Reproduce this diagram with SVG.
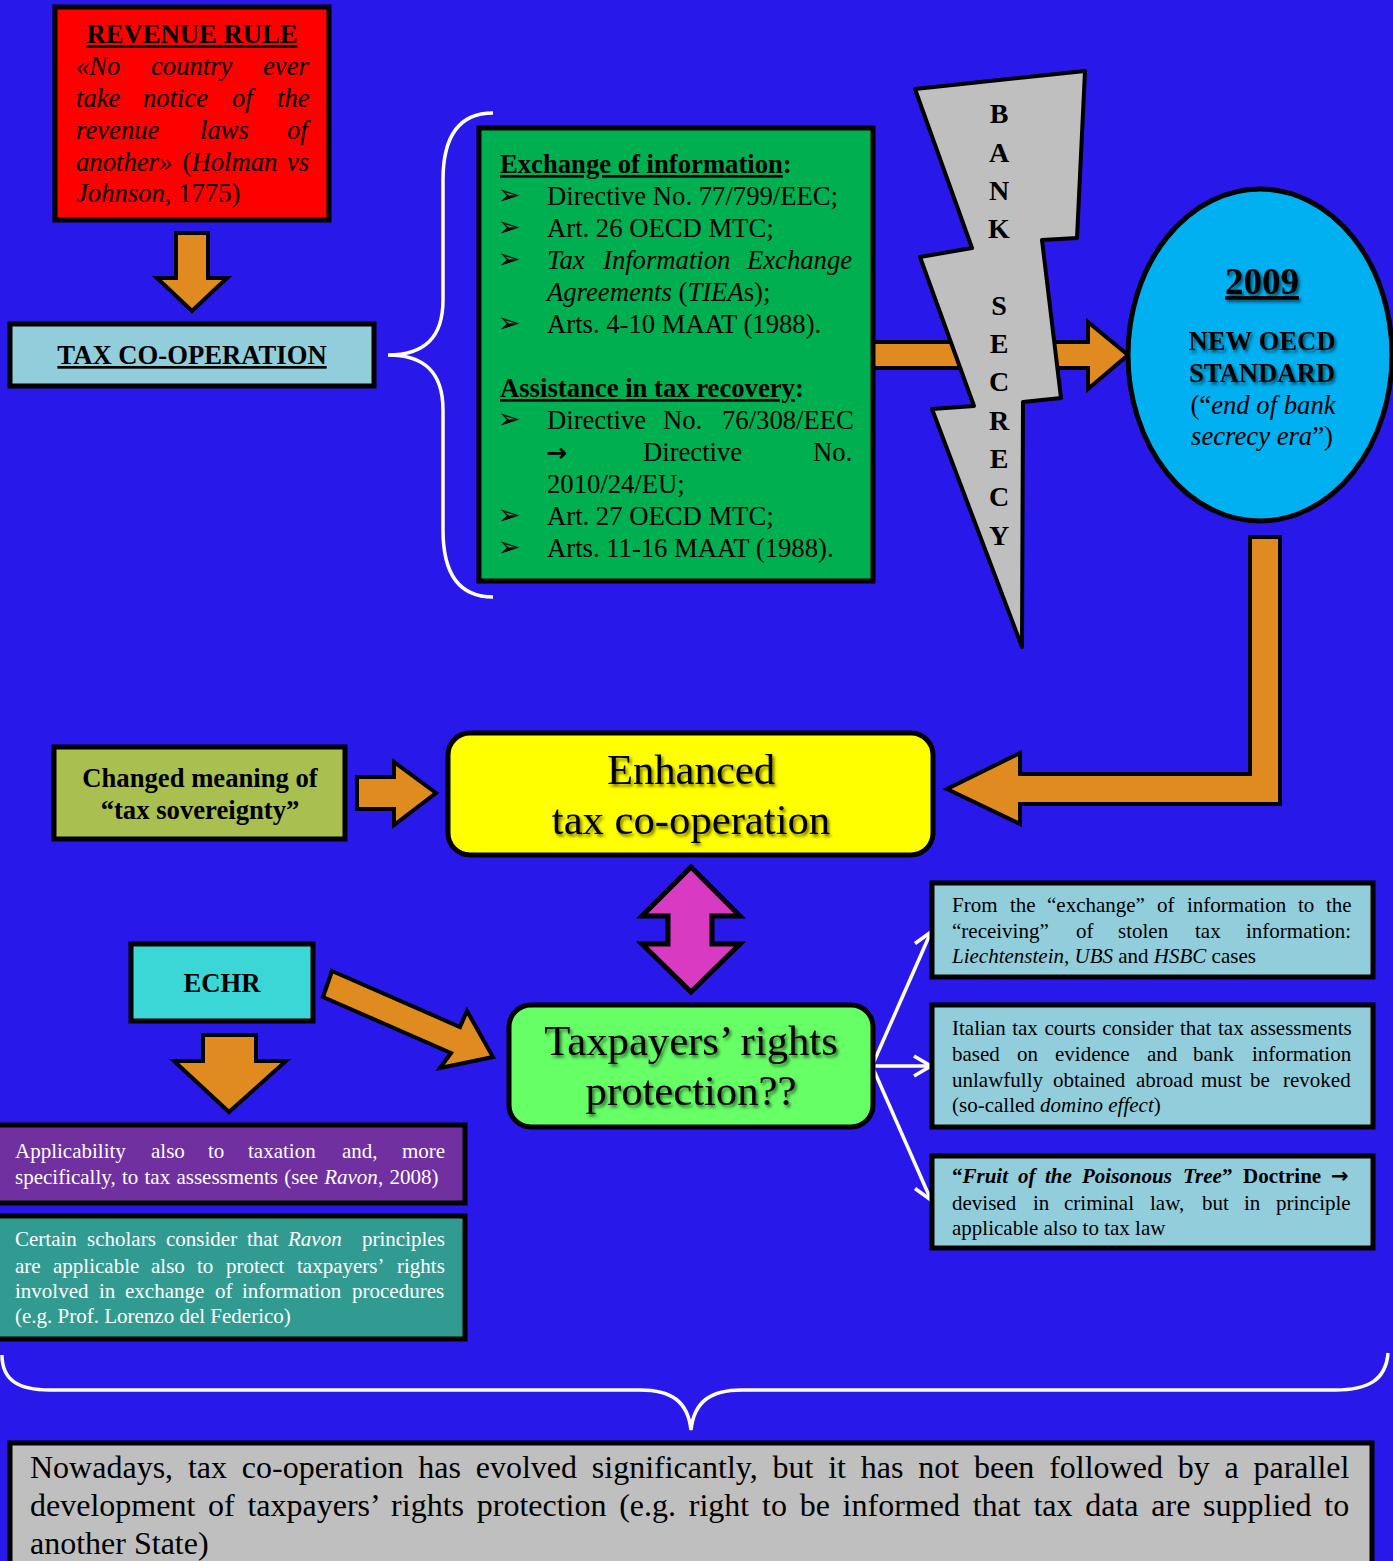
<svg xmlns="http://www.w3.org/2000/svg" width="1393" height="1561" viewBox="0 0 1393 1561">
<defs>
<style>
.serif{font-family:"Liberation Serif","Times New Roman",serif;}
.box{stroke:#000;stroke-width:5;}
.arr{fill:#E08B1F;stroke:#000;stroke-width:4;stroke-linejoin:miter;}
.s26{font-size:26.67px;}
.s21{font-size:21px;}
.b{font-weight:bold;}
.i{font-style:italic;}
.u{text-decoration:underline;}
.bul{font-family:"DejaVu Sans",sans-serif;font-size:27px;}
.rarr{font-family:"DejaVu Sans",sans-serif;font-weight:bold;font-style:normal;}
.wl{fill:none;stroke:#fff;stroke-width:3.5;}
.wtxt{fill:#fff;}
</style>
<filter id="sh" x="-10%" y="-10%" width="130%" height="140%">
<feDropShadow dx="2" dy="2.5" stdDeviation="1.5" flood-color="#000" flood-opacity="0.55"/>
</filter>
<marker id="wa" markerUnits="userSpaceOnUse" markerWidth="24" markerHeight="24" refX="20" refY="12" orient="auto">
<path d="M3,2 L20,12 L3,22" fill="none" stroke="#fff" stroke-width="3.5"/>
</marker>
</defs>
<rect x="0" y="0" width="1393" height="1561" fill="#2819EA"/>

<g id="connectors">
<polygon class="arr" points="176,233 208,233 208,278 227,278 192,311 157,278 176,278"/>
<polygon class="arr" points="873,342 1088,342 1088,322 1128,355 1088,389 1088,368 873,368"/>
<polygon class="arr" points="1250,537 1280,537 1280,804 1020,804 1020,824 947,789 1020,753 1020,774 1250,774"/>
<polygon class="arr" points="357,777 394,777 394,762 436,793 394,825 394,809 357,809"/>
<polygon class="arr" points="203,1035 256,1035 256,1061 286,1061 229,1112 174,1061 203,1061"/>
<polygon class="arr" points="332,971 460,1027 467,1011 493,1057 440,1068 451,1053 323,997"/>
<polygon points="691,867 740,916 712,916 712,944 740,944 691,992 642,944 668,944 668,916 642,916" fill="#D93AC2" stroke="#000" stroke-width="5"/>
<line class="wl" x1="872" y1="1066" x2="931" y2="932" marker-end="url(#wa)"/>
<line class="wl" x1="872" y1="1066" x2="931" y2="1066" marker-end="url(#wa)"/>
<line class="wl" x1="872" y1="1066" x2="931" y2="1200" marker-end="url(#wa)"/>
<path class="wl" d="M493,113 C458,113 443,138 443,180 L443,300 C443,338 424,355 388,355 C424,355 443,372 443,410 L443,530 C443,572 458,597 493,597"/>
<path class="wl" d="M2,1355 C2,1380 18,1390 50,1390 L640,1390 C672,1390 688,1402 691,1430 C694,1402 710,1390 742,1390 L1335,1390 C1368,1390 1386,1380 1388,1353"/>
</g>

<g id="revenue-rule">
<rect class="box" x="55" y="7" width="274" height="213" fill="#FF0000"/>
<text class="serif s26 b u" x="192" y="43" text-anchor="middle">REVENUE RULE</text>
<text class="serif s26 i" y="75"><tspan x="76">«No</tspan><tspan x="151">country</tspan><tspan x="263">ever</tspan></text>
<text class="serif s26 i" y="107"><tspan x="76">take</tspan><tspan x="143">notice</tspan><tspan x="232">of</tspan><tspan x="277">the</tspan></text>
<text class="serif s26 i" y="139"><tspan x="76">revenue</tspan><tspan x="200">laws</tspan><tspan x="287">of</tspan></text>
<text class="serif s26" y="170.5"><tspan x="76" class="i">another»</tspan><tspan x="182.5">(</tspan><tspan class="i">Holman</tspan><tspan x="287" class="i">vs</tspan></text>
<text class="serif s26" x="76" y="202"><tspan class="i">Johnson</tspan>, 1775)</text>
</g>

<g id="tax-cooperation">
<rect class="box" x="10" y="324" width="364" height="62" fill="#92CDDC"/>
<text class="serif s26 b u" x="192" y="364" text-anchor="middle">TAX CO-OPERATION</text>
</g>

<g id="instruments">
<rect class="box" x="479" y="128" width="394" height="453" fill="#00B050"/>
<text class="serif s26 b" x="500" y="173"><tspan class="u">Exchange of information</tspan>:</text>
<text class="bul" x="498" y="204">➢</text>
<text class="serif s26" x="547" y="205">Directive No. 77/799/EEC;</text>
<text class="bul" x="498" y="236">➢</text>
<text class="serif s26" x="547" y="237">Art. 26 OECD MTC;</text>
<text class="bul" x="498" y="268">➢</text>
<text class="serif s26 i" y="269"><tspan x="547">Tax</tspan><tspan x="603">Information</tspan><tspan x="747">Exchange</tspan></text>
<text class="serif s26" x="547" y="301"><tspan class="i">Agreements</tspan> (<tspan class="i">TIEA</tspan>s);</text>
<text class="bul" x="498" y="332">➢</text>
<text class="serif s26" x="547" y="333">Arts. 4-10 MAAT (1988).</text>
<text class="serif s26 b" x="500" y="397"><tspan class="u">Assistance in tax recovery</tspan>:</text>
<text class="bul" x="498" y="428">➢</text>
<text class="serif s26" y="429"><tspan x="547">Directive</tspan><tspan x="663">No.</tspan><tspan x="722">76/308/EEC</tspan></text>
<text class="serif s26" y="461"><tspan x="546" class="rarr" font-size="25">→</tspan><tspan x="643">Directive</tspan><tspan x="813">No.</tspan></text>
<text class="serif s26" x="547" y="493">2010/24/EU;</text>
<text class="bul" x="498" y="524">➢</text>
<text class="serif s26" x="547" y="525">Art. 27 OECD MTC;</text>
<text class="bul" x="498" y="556">➢</text>
<text class="serif s26" x="547" y="557">Arts. 11-16 MAAT (1988).</text>
</g>

<g id="bank-secrecy">
<polygon points="915,89 1085,71 1077,238 1042,240 1061,398 1023,402 1022,647 932,409 974,406 920,257 972,248" fill="#BFBFBF" stroke="#000" stroke-width="4" stroke-linejoin="round"/>
<g class="serif b" font-size="28" text-anchor="middle">
<text x="999" y="123">B</text>
<text x="999" y="161.5">A</text>
<text x="999" y="200">N</text>
<text x="999" y="238">K</text>
<text x="999" y="314.5">S</text>
<text x="999" y="353">E</text>
<text x="999" y="391">C</text>
<text x="999" y="429.5">R</text>
<text x="999" y="467.5">E</text>
<text x="999" y="506">C</text>
<text x="999" y="545">Y</text>
</g>
</g>

<g id="oecd-standard">
<ellipse class="box" cx="1260" cy="355" rx="132" ry="166" fill="#00B0F0"/>
<g filter="url(#sh)">
<text class="serif b u" font-size="37" x="1262" y="294" text-anchor="middle">2009</text>
<text class="serif s26 b" x="1262" y="350" text-anchor="middle">NEW OECD</text>
<text class="serif s26 b" x="1262" y="381.5" text-anchor="middle">STANDARD</text>
</g>
<text class="serif s26" x="1263" y="414" text-anchor="middle">(“<tspan class="i">end of bank</tspan></text>
<text class="serif s26" x="1262" y="445" text-anchor="middle"><tspan class="i">secrecy era</tspan>”)</text>
</g>

<g id="tax-sovereignty">
<rect class="box" x="54" y="747" width="291" height="92" fill="#A9BF50"/>
<text class="serif s26 b" x="200" y="787" text-anchor="middle">Changed meaning of</text>
<text class="serif s26 b" x="200" y="819" text-anchor="middle">“tax sovereignty”</text>
</g>

<g id="enhanced">
<rect class="box" x="448" y="733" width="485" height="122" rx="22" fill="#FFFF00"/>
<g filter="url(#sh)">
<text class="serif" font-size="42.67" x="691" y="784" text-anchor="middle">Enhanced</text>
<text class="serif" font-size="42.67" x="691" y="834" text-anchor="middle">tax co-operation</text>
</g>
</g>

<g id="echr">
<rect class="box" x="131" y="944" width="182" height="77" fill="#3AD7D6"/>
<text class="serif s26 b" x="222" y="992" text-anchor="middle">ECHR</text>
</g>

<g id="taxpayers">
<rect class="box" x="509" y="1005" width="364" height="122" rx="22" fill="#66FF66"/>
<g filter="url(#sh)">
<text class="serif" font-size="42.67" x="691" y="1055" text-anchor="middle">Taxpayers’ rights</text>
<text class="serif" font-size="42.67" x="691" y="1105" text-anchor="middle">protection??</text>
</g>
</g>

<g id="stolen-info">
<rect class="box" x="932" y="883" width="441" height="94" fill="#92CDDC"/>
<text class="serif s21" y="912"><tspan x="952">From</tspan><tspan x="1010">the</tspan><tspan x="1047">“exchange”</tspan><tspan x="1157">of</tspan><tspan x="1187">information</tspan><tspan x="1298">to</tspan><tspan x="1326">the</tspan></text>
<text class="serif s21" y="938"><tspan x="952">“receiving”</tspan><tspan x="1076">of</tspan><tspan x="1118">stolen</tspan><tspan x="1195">tax</tspan><tspan x="1246">information:</tspan></text>
<text class="serif s21" x="952" y="963"><tspan class="i">Liechtenstein</tspan>, <tspan class="i">UBS</tspan> and <tspan class="i">HSBC</tspan> cases</text>
</g>

<g id="domino-effect">
<rect class="box" x="932" y="1005" width="441" height="122" fill="#92CDDC"/>
<text class="serif s21" x="952" y="1035" word-spacing="1.3">Italian tax courts consider that tax assessments</text>
<text class="serif s21" y="1061"><tspan x="952">based</tspan><tspan x="1017">on</tspan><tspan x="1055">evidence</tspan><tspan x="1147">and</tspan><tspan x="1193">bank</tspan><tspan x="1252">information</tspan></text>
<text class="serif s21" y="1087"><tspan x="952">unlawfully</tspan><tspan x="1053">obtained</tspan><tspan x="1136">abroad</tspan><tspan x="1201">must</tspan><tspan x="1250">be</tspan><tspan x="1283">revoked</tspan></text>
<text class="serif s21" x="952" y="1112">(so-called <tspan class="i">domino effect</tspan>)</text>
</g>

<g id="poisonous-tree">
<rect class="box" x="932" y="1156" width="441" height="92" fill="#92CDDC"/>
<text class="serif s21 b" y="1183"><tspan x="952">“</tspan><tspan class="i">Fruit</tspan><tspan x="1018" class="i">of</tspan><tspan x="1045" class="i">the</tspan><tspan x="1082" class="i">Poisonous</tspan><tspan x="1183" class="i">Tree</tspan>”<tspan x="1243">Doctrine</tspan><tspan x="1331" class="rarr" font-size="21">→</tspan></text>
<text class="serif s21" y="1210"><tspan x="952">devised</tspan><tspan x="1033">in</tspan><tspan x="1064">criminal</tspan><tspan x="1150">law,</tspan><tspan x="1202">but</tspan><tspan x="1244">in</tspan><tspan x="1276">principle</tspan></text>
<text class="serif s21" x="952" y="1235">applicable also to tax law</text>
</g>

<g id="applicability">
<rect class="box" x="-5" y="1125" width="470" height="78" fill="#7030A0"/>
<text class="serif s21 wtxt" y="1158"><tspan x="15">Applicability</tspan><tspan x="151">also</tspan><tspan x="208">to</tspan><tspan x="248">taxation</tspan><tspan x="342">and,</tspan><tspan x="402">more</tspan></text>
<text class="serif s21 wtxt" x="15" y="1184" word-spacing="1">specifically, to tax assessments (see <tspan class="i">Ravon</tspan>, 2008)</text>
</g>

<g id="scholars">
<rect class="box" x="-5" y="1216" width="470" height="123" fill="#329B91"/>
<text class="serif s21 wtxt" y="1246"><tspan x="15">Certain</tspan><tspan x="87">scholars</tspan><tspan x="166">consider</tspan><tspan x="247">that</tspan><tspan x="288" class="i">Ravon</tspan><tspan x="362">principles</tspan></text>
<text class="serif s21 wtxt" y="1272.5"><tspan x="15">are</tspan><tspan x="53">applicable</tspan><tspan x="151">also</tspan><tspan x="197">to</tspan><tspan x="226">protect</tspan><tspan x="297">taxpayers’</tspan><tspan x="397">rights</tspan></text>
<text class="serif s21 wtxt" y="1297.5"><tspan x="15">involved</tspan><tspan x="99">in</tspan><tspan x="125">exchange</tspan><tspan x="215">of</tspan><tspan x="242">information</tspan><tspan x="352">procedures</tspan></text>
<text class="serif s21 wtxt" x="15" y="1322.5">(e.g. Prof. Lorenzo del Federico)</text>
</g>

<g id="conclusion">
<rect class="box" x="10" y="1443" width="1362" height="130" fill="#BFBFBF"/>
<text class="serif" font-size="32" x="30" y="1478" word-spacing="6.8">Nowadays, tax co-operation has evolved significantly, but it has not been followed by a parallel</text>
<text class="serif" font-size="32" x="30" y="1516" word-spacing="4.75">development of taxpayers’ rights protection (e.g. right to be informed that tax data are supplied to</text>
<text class="serif" font-size="32" x="30" y="1554">another State)</text>
</g>
</svg>
